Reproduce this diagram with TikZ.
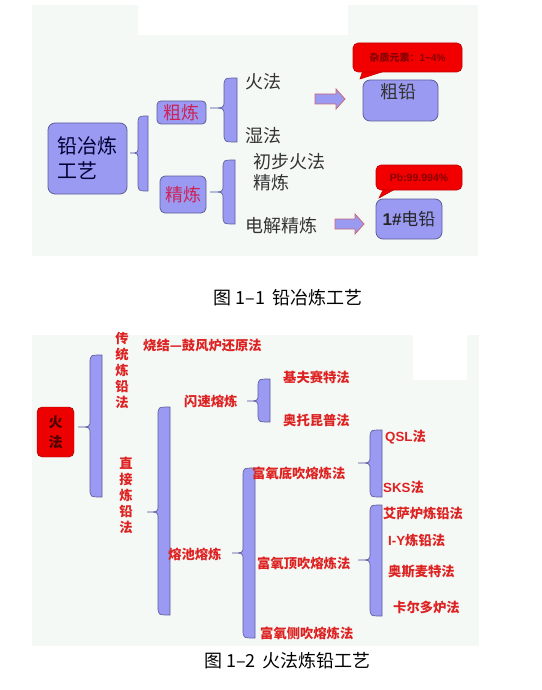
\documentclass[tikz,border=0pt]{standalone}
\usepackage{fontspec}
\setmainfont{Noto Sans CJK SC}
\newfontfamily\lat{Liberation Sans}
\definecolor{panel}{HTML}{F5F9F6}
\definecolor{peri}{HTML}{9A9AF2}
\definecolor{periline}{HTML}{5E5E99}
\definecolor{txt}{HTML}{333333}
\definecolor{rosy}{HTML}{CC2255}
\definecolor{redt}{HTML}{DD2222}
\definecolor{callred}{HTML}{F20000}
\definecolor{darkred}{HTML}{880000}
\definecolor{arrline}{HTML}{CC6677}
\newcommand{\cbrace}[6]{% tipx tipy L R top bottom
  \filldraw[bracestyle] (#4,#5) .. controls (#3,#5) .. ({#3},{#5+9}) -- ({#3},{#2-7})
    .. controls (#3,#2) .. (#1,#2) .. controls (#3,#2) .. ({#3},{#2+7})
    -- ({#3},{#6-9}) .. controls (#3,#6) .. (#4,#6) -- cycle;}
\newcommand{\blockarrow}[4]{% x1 x2 headstart y
  \filldraw[arrowstyle] (#1,{#4-5}) -- (#3,{#4-5}) -- (#3,{#4-10}) -- (#2,#4)
    -- (#3,{#4+10}) -- (#3,{#4+5}) -- (#1,{#4+5}) -- cycle;}
\tikzset{
  bracestyle/.style={fill=peri, draw=periline, line width=0.7pt},
  arrowstyle/.style={fill=peri, draw=arrline, line width=0.8pt},
  box/.style={draw=periline, fill=peri, rounded corners=7pt, line width=0.8pt, inner sep=0pt},
  toptext/.style={text=txt, inner sep=0pt, font=\fontsize{18}{21}\selectfont},
  redtext/.style={text=redt, inner sep=0pt, font=\fontsize{13.3}{16}\selectfont\bfseries},
  callout/.style={fill=callred, draw=callred!80!black, rounded corners=5pt, line width=0.6pt},
  calltext/.style={text=darkred, inner sep=0pt},
  caption/.style={text=black, inner sep=0pt, font=\fontsize{18}{21}\selectfont},
}
\begin{document}
\begin{tikzpicture}[x=1pt,y=-1pt]
\useasboundingbox (0,0) rectangle (541,690);
% panels
\fill[panel] (32,5) rectangle (478,256);
\fill[white] (138,0) rectangle (348,35);
\fill[panel] (32,335) rectangle (479,646);
\fill[white] (413,335) rectangle (467,380);

% ---------- figure 1-1 ----------
\node[box, minimum width=79pt, minimum height=71pt, align=left, text=black!80!blue,
      font=\fontsize{20}{25}\selectfont] (main) at (87.5,158.5) {铅冶炼\\工艺};
\cbrace{130}{153}{138}{148}{116}{191}
\node[box, rounded corners=4pt, minimum width=49pt, minimum height=23pt, text=rosy,
      font=\fontsize{18}{21}\selectfont] (cu) at (181.5,112.5) {粗炼};
\node[box, rounded corners=5pt, minimum width=46pt, minimum height=37pt, text=rosy,
      font=\fontsize{18}{21}\selectfont] (jing) at (183,194.5) {精炼};
\cbrace{210}{108}{224}{237}{78}{142}
\cbrace{210}{192}{223}{235}{160}{224}
\node[toptext, anchor=west] (huofa) at (245,82) {火法};
\node[toptext, anchor=west] (shifa) at (245,136) {湿法};
\node[toptext, anchor=west] (chubu) at (253,162) {初步火法};
\node[toptext, anchor=west] (jinglian) at (253,183) {精炼};
\node[toptext, anchor=west] (dianjie) at (245,226) {电解精炼};
\blockarrow{315}{345}{336}{99}
\blockarrow{335}{364}{355}{224}
\node[box, minimum width=75pt, minimum height=41pt] (cuqian) at (400.5,100.5) {};
\node[toptext] (cuqiant) at (398,92) {粗铅};
\node[box, minimum width=66pt, minimum height=40pt, font=\fontsize{17}{20}\selectfont, text=black!85]
  (dianqian) at (409,219) {{\lat\bfseries 1\#}电铅};
\filldraw[callout, rounded corners=0pt] (363,70) -- (360,79) -- (388,70) -- cycle;
\node[callout, minimum width=109pt, minimum height=29pt, calltext,
      font=\fontsize{10}{12}\selectfont\bfseries] (call1) at (407.5,57.5) {杂质元素：{\lat 1\textasciitilde 4\%}};
\filldraw[callout, rounded corners=0pt] (384,188) -- (379,198) -- (397,188) -- cycle;
\node[callout, minimum width=86pt, minimum height=25pt, calltext,
      font=\lat\fontsize{10.5}{12}\selectfont\bfseries] (call2) at (419,177.5) {Pb:99.994\%};
\node[caption] (cap1) at (288,298) {图 1–1\hspace{7pt}铅冶炼工艺};

% ---------- figure 1-2 ----------
\node[fill=red!93!black, draw=red!60!black, rounded corners=5pt, minimum width=37pt,
      minimum height=50pt, inner sep=0pt, align=center, text=black!70!red,
      font=\fontsize{14}{20}\selectfont\bfseries] (huo) at (55.5,432) {火\\法};
\cbrace{78}{427}{90}{102}{355}{497}
\node[redtext, align=center] (chuantong) at (122,370) {传\\统\\炼\\铅\\法};
\node[redtext, anchor=west] (shaojie) at (143,345) {烧结—鼓风炉还原法};
\node[redtext, align=center] (zhijie) at (126,495.5) {直\\接\\炼\\铅\\法};
\cbrace{147}{512}{158}{170}{407}{615}
\node[redtext, anchor=west] (shansu) at (184,401) {闪速熔炼};
\cbrace{247}{401}{258}{270}{379}{422}
\node[redtext, anchor=west] (jifu) at (283,377) {基夫赛特法};
\node[redtext, anchor=west] (aotuo) at (283,420) {奥托昆普法};
\node[redtext, anchor=west] (rongchi) at (168,554) {熔池熔炼};
\cbrace{232}{553}{243}{255}{468}{638}
\node[redtext, anchor=west] (dichui) at (252,473) {富氧底吹熔炼法};
\node[redtext, anchor=west] (dingchui) at (257,563) {富氧顶吹熔炼法};
\node[redtext, anchor=west] (cechui) at (260,633) {富氧侧吹熔炼法};
\cbrace{358}{463}{370}{382}{430}{497}
\node[redtext, anchor=west] (qsl) at (385,437) {{\lat\bfseries QSL}法};
\node[redtext, anchor=west] (sks) at (383,487) {{\lat\bfseries SKS}法};
\cbrace{358}{560}{370}{382}{505}{616}
\node[redtext, anchor=west] (aisa) at (383,513) {艾萨炉炼铅法};
\node[redtext, anchor=west] (iy) at (388,541) {{\lat\bfseries I-Y}炼铅法};
\node[redtext, anchor=west] (aosi) at (388,572) {奥斯麦特法};
\node[redtext, anchor=west] (kaer) at (393,607) {卡尔多炉法};
\node[caption] (cap2) at (287.5,661) {图 1–2\hspace{7pt}火法炼铅工艺};
\end{tikzpicture}
\end{document}
